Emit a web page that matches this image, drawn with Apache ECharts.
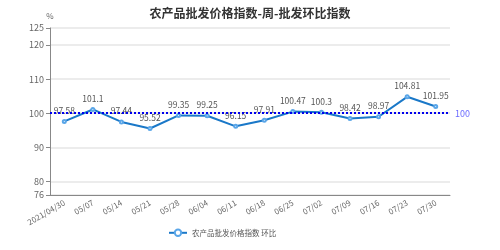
<!DOCTYPE html>
<html><head><meta charset="utf-8">
<script src="https://cdn.jsdelivr.net/npm/echarts@6/dist/echarts.min.js"></script>
<style>html,body{margin:0;padding:0;background:#fff}#c{width:500px;height:250px}</style>
</head><body><div id="c"></div>
<script>
var categories = ['2021/04/30','05/07','05/14','05/21','05/28','06/04','06/11','06/18','06/25','07/02','07/09','07/16','07/23','07/30'];
var values = [97.58, 101.1, 97.44, 95.52, 99.35, 99.25, 96.15, 97.91, 100.47, 100.3, 98.42, 98.97, 104.81, 101.95];
var seriesName = '农产品批发价格指数 环比';
var refValue = 100;
var yMin = 76, yMax = 125;

var chart = echarts.init(document.getElementById('c'));
chart.setOption({
  animation: false,
  textStyle: {fontFamily: '"Noto Sans CJK SC", "Noto Sans", sans-serif'},
  title: {text: '农产品批发价格指数-周-批发环比指数', left: 'center', top: 2,
    textStyle: {fontSize: 12, fontWeight: 'bold', color: '#333'}},
  grid: {left: 50, right: 50, top: 28, bottom: 55},
  legend: {bottom: 8, left: 163, itemWidth: 18, itemHeight: 8, itemGap: 6,
    textStyle: {fontSize: 7.5, color: '#555'}, data: [seriesName]},
  xAxis: {type: 'category', data: categories, boundaryGap: true,
    axisLine: {lineStyle: {color: '#888'}},
    axisTick: {alignWithLabel: false, lineStyle: {color: '#888'}},
    axisLabel: {rotate: 30, fontSize: 8, color: '#666', interval: 0, margin: 7}},
  yAxis: {type: 'value', min: yMin, max: yMax, splitNumber: 5, name: '%',
    nameGap: 8, nameTextStyle: {fontSize: 8, color: '#666', align: 'center'},
    axisLine: {show: true, lineStyle: {color: '#888'}},
    axisTick: {show: true, length: 4, lineStyle: {color: '#888'}},
    axisLabel: {fontSize: 9, color: '#666', margin: 6},
    splitLine: {lineStyle: {color: '#e6e6e6', width: 1.5}}},
  series: [{
    name: seriesName, type: 'line', data: values,
    symbol: 'emptyCircle', symbolSize: 3,
    lineStyle: {color: '#1a78c8', width: 2},
    itemStyle: {color: '#5aa6e8', borderColor: '#5aa6e8', borderWidth: 1},
    label: {show: true, position: 'top', fontSize: 8.5, color: '#555', distance: 4},
    markLine: {silent: true, symbol: 'none',
      lineStyle: {color: '#0000ee', type: 'dotted', width: 2},
      label: {position: 'end', color: '#6a6aff', fontSize: 9},
      data: [{yAxis: refValue}]}
  }]
});
</script></body></html>
